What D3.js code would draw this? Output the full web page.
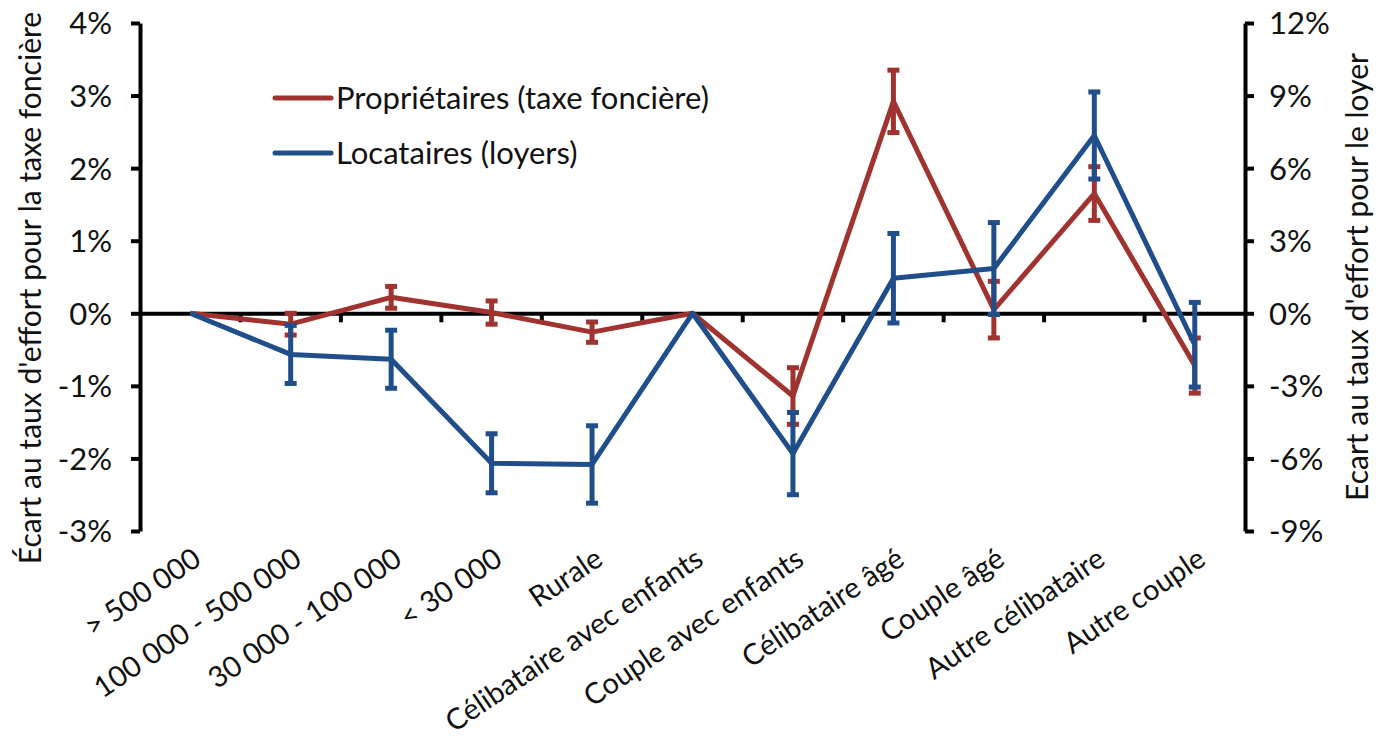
<!DOCTYPE html>
<html>
<head>
<meta charset="utf-8">
<script src="https://cdn.jsdelivr.net/npm/d3@7"></script>
<style>
  body { margin: 0; background: #fff; }
  text { font-family: Lato, "Open Sans", sans-serif; fill: #111; }
</style>
</head>
<body>
<div id="chart"></div>
<script>
const categories = ["> 500 000", "100 000 - 500 000", "30 000 - 100 000", "< 30 000", "Rurale",
  "Célibataire avec enfants", "Couple avec enfants", "Célibataire âgé", "Couple âgé",
  "Autre célibataire", "Autre couple"];

// Propriétaires (taxe foncière), left axis, in %
const propValues = [0, -0.15, 0.22, 0.01, -0.26, 0, -1.14, 2.92, 0.05, 1.65, -0.72];
const propErrors = [0, 0.15, 0.15, 0.16, 0.14, 0, 0.39, 0.43, 0.39, 0.37, 0.38];

// Locataires (loyers), right axis, in %
const locValues = [0, -1.7, -1.9, -6.2, -6.25, 0, -5.8, 1.45, 1.85, 7.35, -1.3];
const locErrors = [0, 1.2, 1.2, 1.22, 1.6, 0, 1.7, 1.85, 1.9, 1.8, 1.75];

const leftTicks = [4, 3, 2, 1, 0, -1, -2, -3];
const rightTicks = [12, 9, 6, 3, 0, -3, -6, -9];

const width = 1383;
const height = 746;
const plotLeft = 140, plotRight = 1245, plotTop = 23, plotBottom = 531;
const fontSize = "31px";

const red = "#a0332f";
const blue = "#1f4e8a";

const svg = d3.select("#chart")
              .append("svg")
              .attr("width", width)
              .attr("height", height);

const x = d3.scaleBand()
            .domain(categories)
            .range([plotLeft, plotRight]);

const yL = d3.scaleLinear().domain([-3, 4]).range([plotBottom, plotTop]);
const yR = d3.scaleLinear().domain([-9, 12]).range([plotBottom, plotTop]);

const cx = c => x(c) + x.bandwidth() / 2;

// left axis
const leftAxis = svg.append("g")
   .attr("transform", "translate(" + plotLeft + ",0)")
   .call(d3.axisLeft(yL).tickValues(leftTicks).tickSize(9).tickSizeOuter(0).tickFormat(d => d + "%"));
leftAxis.select(".domain").attr("stroke-width", 4);
leftAxis.selectAll(".tick line").attr("stroke-width", 4);
leftAxis.selectAll(".tick text").style("font-size", fontSize).attr("x", -28).attr("dy", "0.35em");

// right axis
const rightAxis = svg.append("g")
   .attr("transform", "translate(" + plotRight + ",0)")
   .call(d3.axisRight(yR).tickValues(rightTicks).tickSize(9).tickSizeOuter(0).tickFormat(d => d + "%"));
rightAxis.select(".domain").attr("stroke-width", 4);
rightAxis.selectAll(".tick line").attr("stroke-width", 4);
rightAxis.selectAll(".tick text").style("font-size", fontSize).attr("x", 24).attr("dy", "0.35em");

// zero line with category separators
const xAxis = svg.append("g")
   .attr("transform", "translate(0," + yL(0) + ")")
   .call(d3.axisBottom(x).tickSize(0).tickFormat(""));
xAxis.select(".domain").attr("stroke-width", 4);
xAxis.selectAll(".tick").remove();

svg.append("g")
   .selectAll("line")
   .data(categories.slice(1))
   .enter()
   .append("line")
   .attr("x1", d => x(d))
   .attr("x2", d => x(d))
   .attr("y1", yL(0))
   .attr("y2", yL(0) + 9)
   .attr("stroke", "#000")
   .attr("stroke-width", 4);

// category labels
svg.append("g")
   .selectAll("text")
   .data(categories)
   .enter()
   .append("text")
   .attr("transform", d => "translate(" + (cx(d) + 7) + "," + (plotBottom + 24) + ") rotate(-34)")
   .attr("text-anchor", "end")
   .attr("dy", "0.35em")
   .style("font-size", "29px")
   .text(d => d);

function drawSeries(values, errors, y, color) {
  const g = svg.append("g");
  const line = d3.line()
                 .x((d, i) => cx(categories[i]))
                 .y(d => y(d));
  g.append("path")
   .datum(values)
   .attr("d", line)
   .attr("fill", "none")
   .attr("stroke", color)
   .attr("stroke-width", 5)
   .attr("stroke-linejoin", "round");

  const bars = g.selectAll(".err")
                .data(values.map((v, i) => ({ v: v, e: errors[i], c: categories[i] })).filter(d => d.e > 0))
                .enter()
                .append("g");
  bars.append("line")
      .attr("x1", d => cx(d.c)).attr("x2", d => cx(d.c))
      .attr("y1", d => y(d.v + d.e)).attr("y2", d => y(d.v - d.e))
      .attr("stroke", color).attr("stroke-width", 5);
  [1, -1].forEach(s => {
    bars.append("line")
        .attr("x1", d => cx(d.c) - 6).attr("x2", d => cx(d.c) + 6)
        .attr("y1", d => y(d.v + s * d.e)).attr("y2", d => y(d.v + s * d.e))
        .attr("stroke", color).attr("stroke-width", 5);
  });
}

drawSeries(propValues, propErrors, yL, red);
drawSeries(locValues, locErrors, yR, blue);

// legend
const legend = [
  { name: "Propriétaires (taxe foncière)", color: red },
  { name: "Locataires (loyers)", color: blue }
];
const lg = svg.append("g")
              .selectAll("g")
              .data(legend)
              .enter()
              .append("g")
              .attr("transform", (d, i) => "translate(275," + (98 + i * 55) + ")");
lg.append("line")
  .attr("x1", 0).attr("x2", 56)
  .attr("stroke", d => d.color)
  .attr("stroke-width", 5)
  .attr("stroke-linecap", "round");
lg.append("text")
  .attr("x", 61)
  .attr("dy", "0.35em")
  .style("font-size", fontSize)
  .text(d => d.name);

// axis titles
svg.append("text")
   .attr("transform", "translate(30,288) rotate(-90)")
   .attr("text-anchor", "middle")
   .attr("dy", "0.35em")
   .style("font-size", "30px")
   .text("Écart au taux d'effort pour la taxe foncière");

svg.append("text")
   .attr("transform", "translate(1357,277) rotate(-90)")
   .attr("text-anchor", "middle")
   .attr("dy", "0.35em")
   .style("font-size", "30px")
   .text("Ecart au taux d'effort pour le loyer");
</script>
</body>
</html>
